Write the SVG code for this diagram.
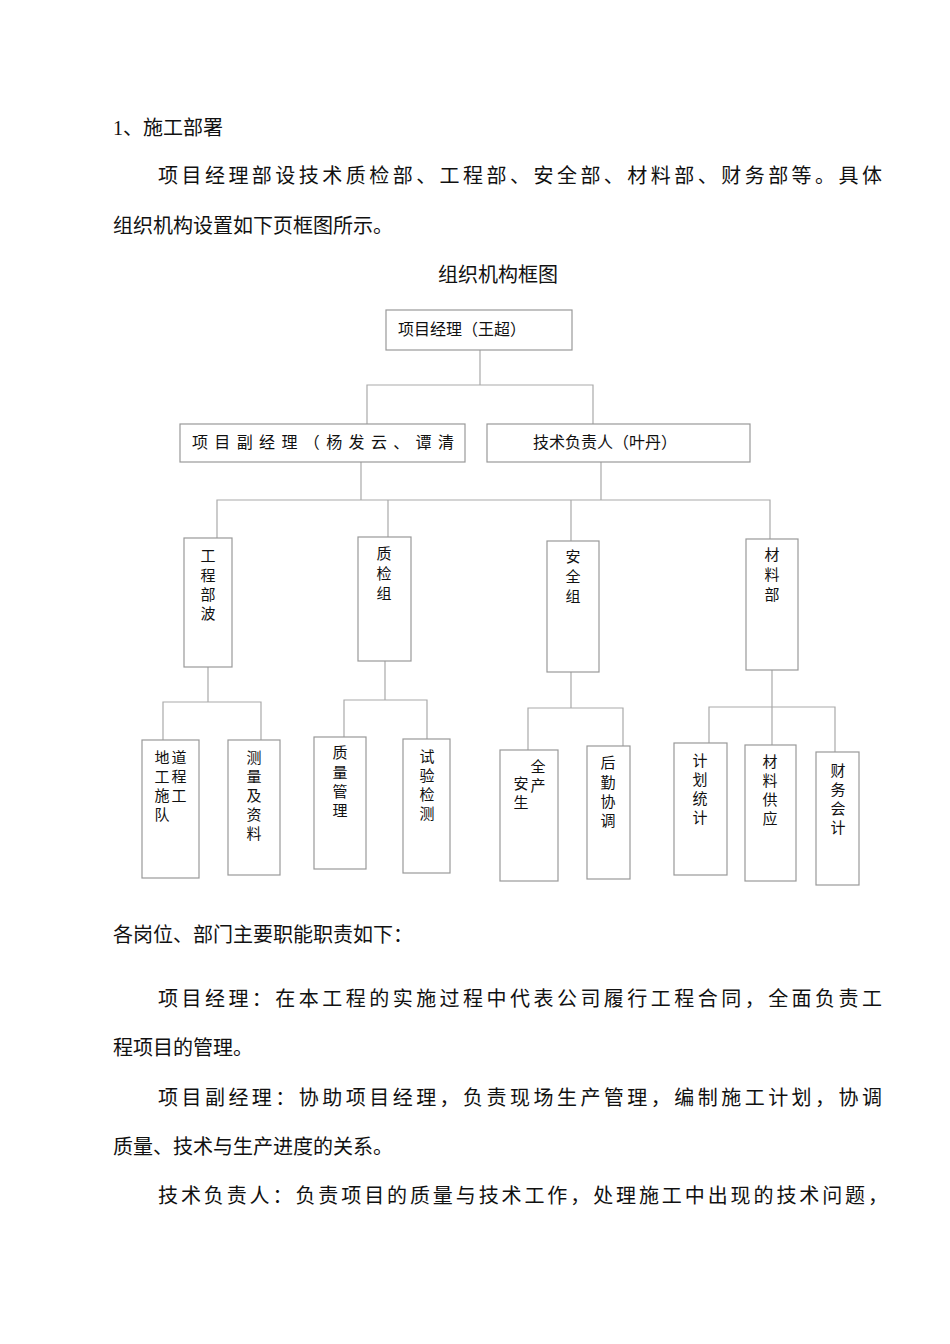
<svg xmlns="http://www.w3.org/2000/svg" width="950" height="1344" viewBox="0 0 950 1344">
<style>
text{font-family:"Liberation Serif","Noto Sans CJK SC",serif;fill:#111}
.b{font-size:20px}
.n{font-size:16px}
.v{font-size:15px;text-anchor:middle}
rect{fill:#fff;stroke:#999;stroke-width:1.2}
#connectors path{fill:none;stroke:#aaa;stroke-width:1.2}
</style>
<rect x="0" y="0" width="950" height="1344" style="stroke:none"/>
<text class="b" x="113" y="135">1、施工部署</text>
<text class="b" x="158" y="183" textLength="724" lengthAdjust="spacing">项目经理部设技术质检部、工程部、安全部、材料部、财务部等。具体</text>
<text class="b" x="113" y="233">组织机构设置如下页框图所示。</text>
<text class="b" x="498" y="282" text-anchor="middle">组织机构框图</text>
<g id="connectors">
<path d="M480 350V385M367 424V385H593V424"/>
<path d="M361 462V500M601 462V500M217 538V500H770V539M388 500V537M571 500V541"/>
<path d="M208 667V702M163 740V702H261V740"/>
<path d="M385 661V700M344 737V700H427V739"/>
<path d="M571 672V708M528 750V708H623V746"/>
<path d="M772 670V707M709 743V707H835V752M772 707V745"/>
</g>
<g id="pm"><rect x="386" y="310" width="186" height="40"/><text class="n" x="398" y="335">项目经理（王超）</text></g>
<g id="deputy"><rect x="180" y="424" width="285" height="38"/><text class="n" x="192" y="448" textLength="262" lengthAdjust="spacing">项目副经理（杨发云、谭清</text></g>
<g id="tech"><rect x="487" y="424" width="263" height="38"/><text class="n" x="533" y="448">技术负责人（叶丹）</text></g>
<g id="gcb"><rect x="184" y="538" width="48" height="129"/><text class="v" x="208"><tspan x="208" y="561">工</tspan><tspan x="208" y="581">程</tspan><tspan x="208" y="600">部</tspan><tspan x="208" y="619">波</tspan></text></g>
<g id="zjz"><rect x="358" y="537" width="53" height="124"/><text class="v"><tspan x="384" y="559">质</tspan><tspan x="384" y="579">检</tspan><tspan x="384" y="599">组</tspan></text></g>
<g id="aqz"><rect x="547" y="541" width="52" height="131"/><text class="v"><tspan x="573" y="562">安</tspan><tspan x="573" y="582">全</tspan><tspan x="573" y="602">组</tspan></text></g>
<g id="clb"><rect x="746" y="539" width="52" height="131"/><text class="v"><tspan x="772" y="560">材</tspan><tspan x="772" y="580">料</tspan><tspan x="772" y="600">部</tspan></text></g>
<g id="dd"><rect x="142" y="740" width="57" height="138"/><text class="v"><tspan x="162" y="763">地</tspan><tspan x="162" y="782">工</tspan><tspan x="162" y="801">施</tspan><tspan x="162" y="820">队</tspan><tspan x="179" y="763">道</tspan><tspan x="179" y="782">程</tspan><tspan x="179" y="801">工</tspan></text></g>
<g id="clzl"><rect x="228" y="740" width="52" height="135"/><text class="v"><tspan x="254" y="763">测</tspan><tspan x="254" y="782">量</tspan><tspan x="254" y="801">及</tspan><tspan x="254" y="820">资</tspan><tspan x="254" y="839">料</tspan></text></g>
<g id="zlgl"><rect x="314" y="737" width="52" height="132"/><text class="v"><tspan x="340" y="758">质</tspan><tspan x="340" y="778">量</tspan><tspan x="340" y="797">管</tspan><tspan x="340" y="816">理</tspan></text></g>
<g id="syjc"><rect x="403" y="739" width="47" height="134"/><text class="v"><tspan x="427" y="762">试</tspan><tspan x="427" y="781">验</tspan><tspan x="427" y="800">检</tspan><tspan x="427" y="819">测</tspan></text></g>
<g id="aqsc"><rect x="500" y="750" width="58" height="131"/><text class="v"><tspan x="521" y="789">安</tspan><tspan x="521" y="808">生</tspan><tspan x="538" y="772">全</tspan><tspan x="538" y="791">产</tspan></text></g>
<g id="hqxt"><rect x="587" y="746" width="43" height="133"/><text class="v"><tspan x="608" y="768">后</tspan><tspan x="608" y="788">勤</tspan><tspan x="608" y="807">协</tspan><tspan x="608" y="826">调</tspan></text></g>
<g id="jhtj"><rect x="674" y="743" width="53" height="132"/><text class="v"><tspan x="700" y="766">计</tspan><tspan x="700" y="785">划</tspan><tspan x="700" y="804">统</tspan><tspan x="700" y="823">计</tspan></text></g>
<g id="clgy"><rect x="745" y="745" width="51" height="136"/><text class="v"><tspan x="770" y="767">材</tspan><tspan x="770" y="786">料</tspan><tspan x="770" y="805">供</tspan><tspan x="770" y="824">应</tspan></text></g>
<g id="cwkj"><rect x="816" y="752" width="43" height="133"/><text class="v"><tspan x="838" y="776">财</tspan><tspan x="838" y="795">务</tspan><tspan x="838" y="814">会</tspan><tspan x="838" y="833">计</tspan></text></g>
<text class="b" x="113" y="942">各岗位、部门主要职能职责如下：</text>
<text class="b" x="158" y="1006" textLength="724" lengthAdjust="spacing">项目经理：在本工程的实施过程中代表公司履行工程合同，全面负责工</text>
<text class="b" x="113" y="1055">程项目的管理。</text>
<text class="b" x="158" y="1105" textLength="724" lengthAdjust="spacing">项目副经理：协助项目经理，负责现场生产管理，编制施工计划，协调</text>
<text class="b" x="113" y="1154">质量、技术与生产进度的关系。</text>
<text class="b" x="158" y="1203" textLength="730" lengthAdjust="spacing">技术负责人：负责项目的质量与技术工作，处理施工中出现的技术问题，</text>
</svg>
